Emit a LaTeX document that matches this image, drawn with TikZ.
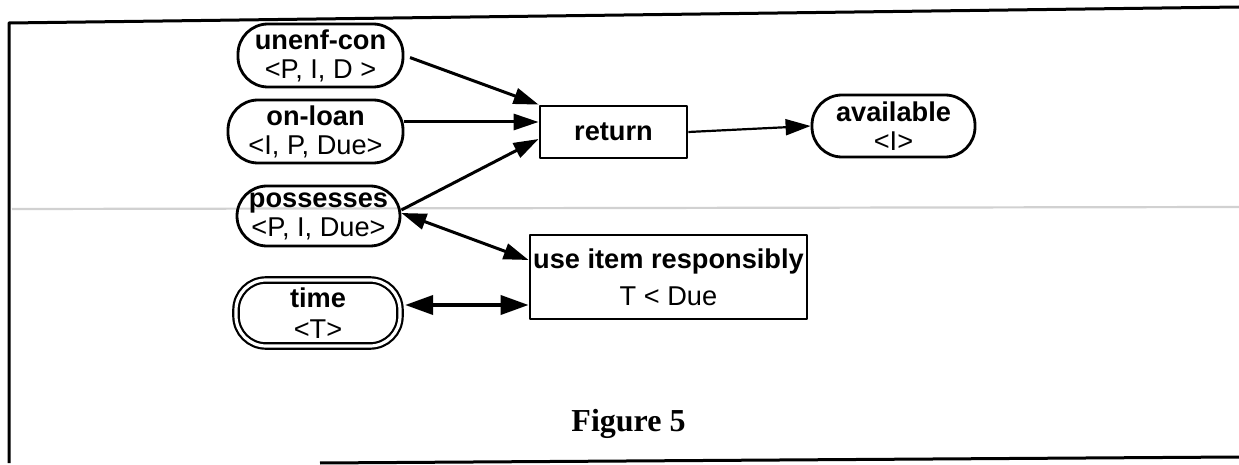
\documentclass[tikz,border=0pt]{standalone}
\usepackage{fontspec}
\setmainfont{Liberation Sans}
\newfontfamily\capfont{Liberation Serif}
\usetikzlibrary{arrows.meta}

\begin{document}
\begin{tikzpicture}[x=0.5pt,y=-0.5pt,
  line join=round,
  every node/.style={font=\fontsize{13.6}{14.5}\selectfont, align=center, inner sep=0pt},
  oval/.style={draw, line width=1.4pt, rounded corners=15pt},
  box/.style={draw, line width=1.4pt},
  tipA/.tip={Triangle[length=12.5pt,width=8pt]},
  tipB/.tip={Triangle[length=14pt,width=9.5pt]},
  arr/.style={line width=1.5pt, -tipA},
  arrboth/.style={line width=1.5pt, tipA-tipA},
  arrbig/.style={line width=1.9pt, tipB-tipB}]

\useasboundingbox (0,0) rectangle (1239,465);

% faint rule running across the page
\draw[black!18, line width=1.1pt] (12,209) -- (1239,207);

% frame
\draw[line width=1.5pt] (9,463) -- (9,23) -- (1239,7);
\draw[line width=1.5pt] (320,463) -- (1239,457);

% states
\node[oval, minimum width=82.5pt, minimum height=31.5pt] (unenf) at (320.5,55.5)
  {\textbf{unenf-con}\\<P, I, D >};
\node[oval, minimum width=87.5pt, minimum height=31.5pt] (onloan) at (315.5,131.5)
  {\textbf{on-loan}\\<I, P, Due>};
\node[oval, minimum width=81.5pt, minimum height=30pt] (poss) at (318.5,216)
  {\textbf{possesses}\\<P, I, Due>};
\node[oval, double, double distance=1.6pt, line width=1.1pt,
      minimum width=82pt, minimum height=33pt] (time) at (318,313)
  {\textbf{time}\\[1pt]<T>};
\node[oval, minimum width=81.5pt, minimum height=31pt] (avail) at (893.5,126)
  {\textbf{available}\\<I>};

% actions
\node[box, minimum width=73.5pt, minimum height=26pt] (return) at (613.5,132)
  {\textbf{return}};
\node[box, minimum width=138.5pt, minimum height=42pt] (use) at (668.5,277)
  {\textbf{use item responsibly}\\[4pt]T < Due};

% caption
\node[anchor=base, font=\capfont\bfseries\fontsize{16}{19}\selectfont] (cap) at (628.5,431)
  {Figure 5};

% connectors
\draw[arr, shorten <=3pt] (unenf.east) -- (return.north west);
\coordinate (ol) at ([yshift=4.75pt]onloan.east);
\draw[arr] (ol) -- (ol -| return.west);
\draw[arr] ([yshift=3pt]poss.east) -- ([yshift=-3.5pt]return.west);
\draw[arrboth] ([yshift=1.5pt]poss.east) -- ([yshift=8.5pt]use.west);
\coordinate (tm) at ([yshift=4pt]time.east);
\draw[arrbig, shorten <=2pt] (tm) -- (tm -| use.west);
\draw[arr, line width=1.1pt] (return.east) -- (avail.west);

\end{tikzpicture}
\end{document}
